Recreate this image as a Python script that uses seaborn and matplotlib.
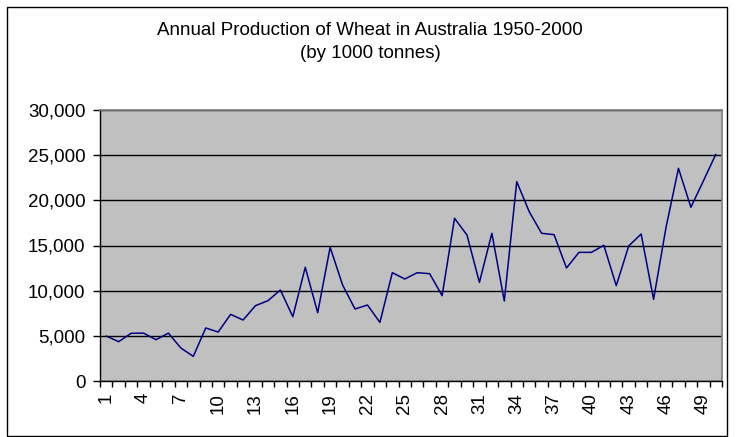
import matplotlib
matplotlib.use("Agg")
import matplotlib.pyplot as plt
import matplotlib.ticker as mticker
from matplotlib.patches import Rectangle
import seaborn as sns
import pandas as pd

# --- Dados ---
years = list(range(1, 51))
production = [4980, 4350, 5280, 5300, 4570, 5300, 3650, 2730, 5870, 5420,
              7380, 6750, 8340, 8890, 10070, 7120, 12590, 7560, 14800, 10630,
              7970, 8410, 6490, 11990, 11290, 11990, 11880, 9450, 18010, 16160,
              10920, 16350, 8860, 22070, 18750, 16350, 16200, 12510, 14240, 14240,
              15020, 10550, 14950, 16270, 9040, 17000, 23540, 19230, 22140, 25090]
label_years = list(range(1, 51, 3))
y_ticks = [0, 5000, 10000, 15000, 20000, 25000, 30000]

title = "Annual Production of Wheat in Australia 1950-2000\n(by 1000 tonnes)"

df = pd.DataFrame({"ano": years, "producao": production})

# --- Gráfico ---
sns.set_theme(style="ticks")
plt.rcParams['font.family'] = ['Liberation Sans', 'DejaVu Sans']

fig = plt.figure(figsize=(7.37, 4.37), dpi=100)
ax = fig.add_axes([100 / 737, 1 - 381 / 437, 622 / 737, 271 / 437])

sns.lineplot(data=df, x="ano", y="producao", color="#000080", linewidth=1.1, ax=ax)

ax.set_facecolor("#c0c0c0")
ax.set_xlim(0.5, 50.5)
ax.set_ylim(0, 30000)
ax.set_yticks(y_ticks)
ax.yaxis.set_major_formatter(mticker.FuncFormatter(lambda v, p: f"{int(v):,}"))
ax.grid(axis="y", color="black", linewidth=1)
ax.set_axisbelow(True)

# ticks nos limites das categorias, rótulos no centro
ax.set_xticks([i + 0.5 for i in range(0, 51)])
ax.set_xticklabels([])
ax.set_xticks(label_years, minor=True)
ax.set_xticklabels([str(v) for v in label_years], minor=True, rotation=90)
ax.tick_params(axis="x", which="major", length=4.5, width=1, color="black", direction="out")
ax.tick_params(axis="x", which="minor", length=0, pad=8.5, labelsize=13.5, labelcolor="black")
ax.tick_params(axis="y", length=5, width=1, color="black", labelsize=13.5, labelcolor="black", pad=5.5)

for side in ["top", "right"]:
    ax.spines[side].set_visible(True)
    ax.spines[side].set_color("#808080")
for side in ["left", "bottom"]:
    ax.spines[side].set_color("black")
    ax.spines[side].set_linewidth(1)

ax.set_xlabel("")
ax.set_ylabel("")

fig.text(370 / 737, 1 - 42 / 437, title, ha="center", va="center", fontsize=13.5,
         linespacing=1.45, color="black")

fig.patches.append(Rectangle((7 / 737, 0.002), 720 / 737, 1 - 7 / 437 - 0.002,
                             transform=fig.transFigure, fill=False,
                             edgecolor="black", linewidth=1))

plt.savefig("out.png", dpi=100)
